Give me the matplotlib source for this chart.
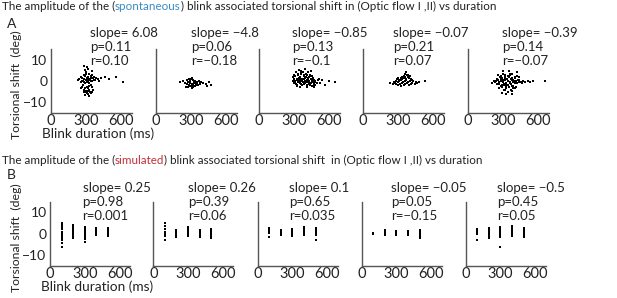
import numpy as np
import matplotlib
matplotlib.use("Agg")
import matplotlib.pyplot as plt

plt.rcParams['font.family'] = ['Lato', 'DejaVu Sans']

# ---- data ----
# A: spontaneous blinks, blink duration (ms) vs torsional shift (deg)
dur_a1 = [
    230, 245, 255, 262, 270, 275, 280, 285, 290, 295,
    300, 305, 310, 315, 320, 325, 330, 335, 340, 345,
    350, 355, 360, 370, 380, 390, 400, 415, 430, 460,
    270, 280, 290, 300, 310, 320, 330, 340, 350, 360,
    275, 285, 295, 305, 315, 325, 335, 345, 290, 310,
    300, 320, 330, 280, 300, 260, 350, 500, 555, 615,
    265, 285, 305, 325, 345, 290, 310, 330, 350, 370,
]
shift_a1 = [
    0.5, 1.0, -0.5, 2.0, 1.5, 0.0, 3.0, 1.0, -1.0, 2.5,
    0.5, 1.5, -0.5, 2.0, 0.0, 1.0, 3.5, 0.5, 1.5, 2.5,
    0.0, 3.0, 1.5, 2.0, 0.5, 1.5, 1.0, 0.0, 1.5, 2.0,
    -3.0, -4.0, -3.5, -5.0, -4.5, -3.5, -4.0, -5.5, -3.0, -4.0,
    -2.0, -5.0, -6.5, -3.0, -6.0, -2.5, -5.0, -2.0, 5.0, 6.5,
    4.0, 5.5, -7.0, 7.0, 3.5, -3.5, 4.5, 1.0, 2.0, -0.5,
    0.0, -0.5, 1.0, -1.0, 0.0, -4.5, -5.5, -4.5, -5.0, 0.5,
]
dur_a2 = [
    210, 230, 250, 265, 275, 285, 295, 305, 315, 325,
    335, 345, 355, 365, 375, 390, 405, 430, 450, 470,
    270, 280, 290, 300, 310, 320, 330, 340, 350, 360,
    275, 290, 305, 320, 335, 350, 300, 260, 380, 440,
]
shift_a2 = [
    -0.5, 0.0, -1.0, 0.5, -0.5, 1.0, 0.0, 1.5, 0.5, -0.5,
    0.0, -1.0, -0.5, 0.0, -1.5, -0.5, -1.0, -1.5, -0.5, -2.0,
    -1.5, -2.0, -1.0, -2.5, -1.5, -2.0, -1.0, -1.5, -1.0, -2.0,
    -3.0, -2.5, -3.5, -3.0, -2.5, -2.0, 1.0, -3.0, -1.0, -2.5,
]
dur_a3 = [
    290, 300, 310, 320, 330, 340, 350, 360, 370, 380,
    390, 400, 410, 420, 430, 440, 450, 460, 470, 480,
    295, 305, 315, 325, 335, 345, 355, 365, 375, 385,
    395, 405, 415, 425, 435, 445, 455, 465, 475, 490,
    290, 300, 310, 320, 330, 340, 350, 360, 370, 380,
    390, 400, 410, 420, 430, 440, 450, 460, 470, 500,
    298, 312, 328, 342, 358, 372, 388, 402, 418, 432,
    448, 462, 478, 510, 520, 540, 560, 600, 650, 350,
    380, 410, 440, 320, 300, 470, 360, 400, 430, 340,
]
shift_a3 = [
    2.0, 1.0, 2.5, 0.5, 3.0, 1.5, 2.0, 3.5, 1.0, 2.5,
    1.5, 2.0, 3.0, 0.5, 2.0, 1.0, 0.0, 1.5, 0.5, -0.5,
    -1.0, -0.5, -1.5, -2.0, -0.5, -1.0, -1.5, -2.0, -0.5, -1.5,
    -1.0, -2.0, -0.5, -1.5, -2.0, -1.0, -2.5, -1.5, -2.0, -1.0,
    0.0, 0.5, 0.0, 1.0, -0.5, 0.5, 1.0, 0.0, 0.5, 1.0,
    0.0, -0.5, 0.5, 1.5, 0.0, 2.5, 1.0, -0.5, -1.5, 0.5,
    3.0, 4.0, 3.5, 5.0, 4.5, 4.0, 5.5, 3.5, 4.0, 3.0,
    2.5, -2.5, 0.0, 1.0, -1.0, 0.5, -2.0, 0.0, -0.5, -3.0,
    3.0, -3.0, 4.5, -2.5, 2.5, -3.0, 4.0, 2.0, -1.0, 0.0,
]
dur_a4 = [
    230, 255, 270, 285, 300, 315, 330, 345, 360, 375,
    390, 405, 420, 440, 460, 480, 525, 265, 280, 295,
    310, 325, 340, 355, 370, 385, 400, 415, 430, 450,
    290, 305, 320, 335, 350, 365, 380, 395, 410, 330,
    345, 360, 375, 390, 355, 370, 380, 320, 400, 300,
]
shift_a4 = [
    -1.0, -1.5, -1.0, -1.5, -2.0, -1.5, -1.0, -2.0, -1.5, -1.0,
    -2.0, -1.5, -1.0, -1.5, -1.0, -0.5, 0.0, -0.5, 0.0, -0.5,
    0.0, 0.5, -0.5, 0.0, 0.5, -0.5, 0.0, 0.5, 0.0, -0.5,
    1.0, 0.5, 1.5, 1.0, 1.5, 1.0, 2.0, 1.5, 1.0, 2.0,
    2.5, 2.0, 3.0, 2.5, 3.5, 4.0, 3.0, -2.5, 2.5, 1.5,
]
dur_a5 = [
    205, 220, 235, 250, 260, 270, 280, 290, 300, 310,
    320, 330, 340, 350, 360, 370, 380, 390, 400, 410,
    250, 265, 275, 285, 295, 305, 315, 325, 335, 345,
    355, 365, 375, 385, 395, 405, 415, 425, 440, 460,
    240, 255, 270, 285, 300, 315, 330, 345, 360, 375,
    390, 405, 420, 435, 450, 470, 490, 510, 530, 555,
    260, 280, 300, 320, 340, 360, 380, 400, 420, 440,
    270, 290, 310, 330, 350, 370, 390, 410, 300, 340,
    380, 420, 330, 360, 290, 400, 350, 320, 380, 655,
]
shift_a5 = [
    -1.0, 0.0, -0.5, -1.5, 0.5, -1.0, 1.0, -2.0, 0.5, -1.5,
    1.5, -2.0, 0.0, 2.0, -1.0, 1.0, -2.5, 0.5, -1.0, 0.0,
    1.0, -1.5, 2.0, -2.5, 1.5, -2.0, 2.5, -3.0, 1.0, -2.0,
    2.5, -1.5, 1.5, -2.5, 0.0, 1.5, -1.0, 0.5, -0.5, -1.0,
    0.0, 0.5, -0.5, 0.0, -0.5, 0.5, -1.0, 0.0, -0.5, 0.5,
    -0.5, 0.0, -1.0, 0.5, -0.5, 0.0, -0.5, 0.0, -0.5, 0.0,
    3.0, 2.5, 3.5, 3.0, 2.5, 3.0, 3.5, 2.0, 2.5, 2.0,
    -3.5, -3.0, -4.0, -3.5, -3.0, -4.0, -3.5, -3.0, 4.5, -5.0,
    -4.5, 4.0, -6.0, 3.5, -5.5, -3.5, 4.5, -4.0, -6.0, 0.0,
]

# B: simulated blinks, fixed durations, shifts per duration column
sim_dur = [100, 200, 300, 400, 500]
sim_b1 = [
    [5.0, 4.0, 3.0, 2.0, 1.0, 0.0, -1.0, -2.0, -3.0, -4.5, -6.0],
    [4.2, 3.5, 3.0, 2.5, 2.0, 1.5, 1.0, 0.5, 0.0, -0.5, -1.0, -1.5, -2.0],
    [3.0, 2.5, 2.0, 1.5, 1.0, 0.5, 0.0, -0.5, -1.0, -1.5, -2.0, -2.5, -4.0],
    [2.7, 2.2, 1.7, 1.2, 0.7, 0.2, -0.3, -0.8],
    [2.7, 2.2, 1.7, 1.2, 0.7, 0.2, -0.3, -0.8, -1.2],
]
sim_b2 = [
    [5.0, 3.5, 2.0, 1.0, 0.0, -1.0, -2.8],
    [1.9, 1.4, 0.9, 0.4, -0.1, -0.6, -1.0, -1.5],
    [3.0, 2.5, 2.0, 1.5, 1.0, 0.5, 0.0, -0.5, -1.2],
    [1.9, 1.4, 0.9, 0.4, -0.1, -0.6, -1.0, -1.5],
    [2.3, 1.8, 1.3, 0.8, 0.3, -0.2, -0.7, -1.2, -1.6, -2.0],
]
sim_b3 = [
    [2.7, 2.2, 1.7, 1.2, 0.7, 0.2, -1.7],
    [1.9, 1.4, 0.9, 0.4, -0.1, -0.8],
    [2.2, 1.7, 1.2, 0.7, 0.2, -0.3, -0.8, -1.2],
    [3.0, 2.5, 2.0, 1.5, 1.0, 0.5, 0.0, -0.5],
    [2.7, 2.2, 1.7, 1.2, 0.7, 0.2, -0.3, -0.8, -2.8],
]
sim_b4 = [
    [0.5, 0.0],
    [1.9, 1.4, 0.9, 0.4, -0.1, -0.6],
    [1.5, 1.0, 0.5, 0.0, -0.6],
    [1.1, 0.6, 0.1, -0.5],
    [1.9, 1.4, 0.9, 0.4, -0.1, -0.6, -1.1, -1.6, -2.0],
]
sim_b5 = [
    [2.2, 1.7, 1.2, 0.7, 0.2, -0.3, -2.8],
    [2.7, 2.2, 1.7, 1.2, 0.7, 0.2, -0.3, -0.8, -1.3, -2.0],
    [3.0, 2.5, 2.0, 1.5, 1.0, 0.5, 0.0, -0.5, -1.0, -1.5, -6.3],
    [3.7, 3.2, 2.7, 2.2, 1.7, 1.2, 0.7, 0.2, -0.3, -0.9],
    [2.7, 2.2, 1.7, 1.2, 0.7, 0.2, -0.3, -0.8, -1.5],
]

stats_a = [
    ["slope= 6.08", "p=0.11", "r=0.10"],
    ["slope= \u22124.8", "p=0.06", "r=\u22120.18"],
    ["slope= \u22120.85", "p=0.13", "r=\u22120.1"],
    ["slope= \u22120.07", "p=0.21", "r=0.07"],
    ["slope= \u22120.39", "p=0.14", "r=\u22120.07"],
]
stats_b = [
    ["slope= 0.25", "p=0.98", "r=0.001"],
    ["slope= 0.26", "p=0.39", "r=0.06"],
    ["slope= 0.1", "p=0.65", "r=0.035"],
    ["slope= \u22120.05", "p=0.05", "r=\u22120.15"],
    ["slope= \u22120.5", "p=0.45", "r=0.05"],
]
xticks = [0, 300, 600]
yticks = [-10, 0, 10]

W, H = 617, 298
fig = plt.figure(figsize=(W / 100, H / 100), dpi=100)

spine_col = "#555555"
txt_col = "#222222"


def px_axes(left, top, w, h):
    return fig.add_axes([left / W, (H - top - h) / H, w / W, h / H])


def style(ax, first):
    for s in ["top", "right"]:
        ax.spines[s].set_visible(False)
    for s in ["left", "bottom"]:
        ax.spines[s].set_color(spine_col)
        ax.spines[s].set_linewidth(1.0)
    ax.set_xlim(0, 690)
    ax.set_ylim(-15, 15)
    ax.set_xticks(xticks)
    ax.set_yticks(yticks)
    ax.tick_params(length=0, labelsize=10.5, colors=txt_col)
    ax.tick_params(axis="x", pad=1)
    ax.tick_params(axis="y", pad=2.5, labelsize=10)
    ax.set_yticklabels(["\u221210", "0", "10"] if first else [])


def stats_text(ax, lines, dx, top_px):
    # top_px: distance (px) of first line centre above axes top (64 px tall)
    for i, s in enumerate(lines):
        ax.text(dx / 81, 1 + (top_px - 14 * i) / 64, s,
                transform=ax.transAxes, fontsize=9.5, color=txt_col,
                va="center", ha="left", clip_on=False)


a_left = [50.7, 155.7, 259, 363, 467.7]
a_dx = [39, 35, 32.7, 30, 34.5]
a_data = [(dur_a1, shift_a1), (dur_a2, shift_a2), (dur_a3, shift_a3),
          (dur_a4, shift_a4), (dur_a5, shift_a5)]
for i in range(5):
    ax = px_axes(a_left[i], 49, 81, 64)
    style(ax, i == 0)
    d, s = a_data[i]
    ax.scatter(d, s, s=3.5, color="black", linewidths=0, marker="s")
    stats_text(ax, stats_a[i], a_dx[i], 16)

b_left = [50, 153.3, 257.7, 361.7, 465.7]
b_dx = [33, 35, 31.6, 30, 32]
b_data = [sim_b1, sim_b2, sim_b3, sim_b4, sim_b5]
for i in range(5):
    ax = px_axes(b_left[i], 201.7, 80, 64)
    style(ax, i == 0)
    for x, col in zip(sim_dur, b_data[i]):
        ax.scatter([x] * len(col), col, s=3, color="black", linewidths=0,
                   marker="s")
    stats_text(ax, stats_b[i], b_dx[i], 14)

# axis labels
for yc in [85, 238]:
    fig.text(16.5 / W, 1 - yc / H, "Torsional shift  (deg)", rotation=90,
             fontsize=8.8, color=txt_col, ha="center", va="center")
fig.text(98 / W, 1 - 138.5 / H, "Blink duration (ms)", fontsize=9.8,
         color=txt_col, ha="center", va="baseline")
fig.text(97 / W, 1 - 291 / H, "Blink duration (ms)", fontsize=9.8,
         color=txt_col, ha="center", va="baseline")

fig.text(7 / W, 1 - 28 / H, "A", fontsize=10, color=txt_col, va="baseline")
fig.text(7 / W, 1 - 179 / H, "B", fontsize=10, color=txt_col, va="baseline")


def color_line(x_px, y_px, parts, size):
    r = fig.canvas.get_renderer()
    x = x_px / W
    for s, c in parts:
        t = fig.text(x, 1 - y_px / H, s, color=c, fontsize=size,
                     va="baseline", ha="left")
        bb = t.get_window_extent(renderer=r)
        x = bb.x1 / fig.bbox.width


color_line(2, 10, [("The amplitude of the (", txt_col),
                   ("spontaneous", "#3a8cc4"),
                   (") blink associated torsional shift in (Optic flow I ,II) vs duration", txt_col)],
           8.4)
color_line(2, 164, [("The amplitude of the (", txt_col),
                    ("simulated", "#c0303a"),
                    (") blink associated torsional shift  in (Optic flow I ,II) vs duration", txt_col)],
           8.4)

fig.savefig("out.png", dpi=100)
